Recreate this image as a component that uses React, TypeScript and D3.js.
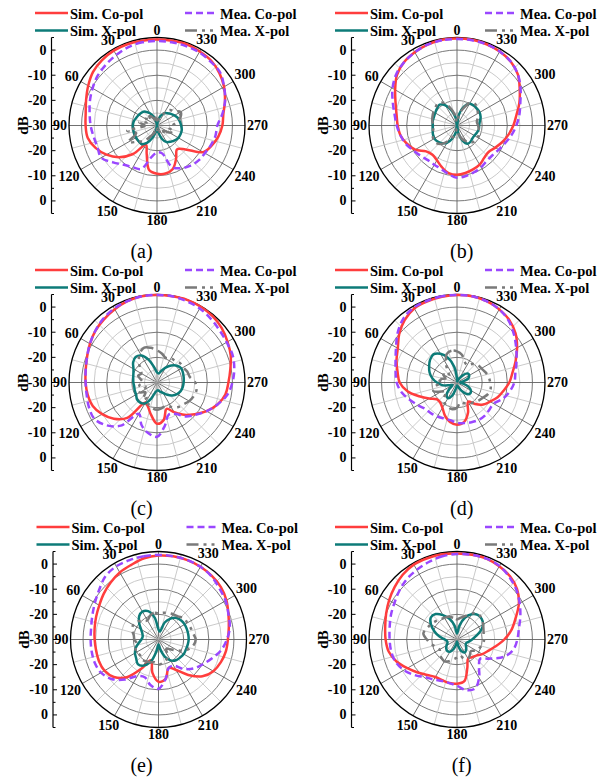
import React, { useEffect, useRef } from 'react';
import * as d3 from 'd3';

// angles in degrees, counter-clockwise from the top
const angles = [0, 10, 20, 30, 40, 50, 60, 70, 80, 90, 100, 110, 120, 130, 140, 150, 160, 170,
  180, 190, 200, 210, 220, 230, 240, 250, 260, 270, 280, 290, 300, 310, 320, 330, 340, 350];
const angleTicks = [0, 30, 60, 90, 120, 150, 180, 210, 240, 270, 300, 330];
const radialLabels = [0, -10, -20, -30];
const seriesNames = ['Sim. Co-pol', 'Mea. Co-pol', 'Sim. X-pol', 'Mea. X-pol'];
const captions = ['(a)', '(b)', '(c)', '(d)', '(e)', '(f)'];

// (a)
const aSimCo = [4.2, 4.2, 4.4, 4.4, 4, 3.2, 1.6, 0, -1.2, -1.6, -2, -4, -6.8, -10.4, -15.2, -21.2, -18, -12, -10.8, -10.6, -11.6, -14.8, -17.6, -15.2, -8.8, -6.8, -5.2, -4, -3.2, -1.2, 0.8, 2.4, 3.6, 4, 4.4, 4.2];
const aMeaCo = [3.6, 3.6, 3.2, 2.4, 1.6, 0.8, -0.4, -1.6, -2.8, -3.6, -4.4, -4.8, -4.4, -7.2, -9.6, -10.8, -11.6, -17.2, -19.2, -18.8, -12.4, -10.4, -9.2, -8.4, -8, -7.2, -6.4, -6, -3.6, -1.2, 0.8, 2.8, 3.2, 3.6, 3.6, 3.6];
const aSimX = [-32, -28.4, -26.4, -24.4, -22.8, -22, -21.6, -21.2, -20.6, -20.4, -20.4, -20.4, -20.4, -20.4, -20.4, -22, -24.8, -27.6, -32, -27.6, -24.4, -22.4, -21.6, -20.8, -20.2, -20, -20, -20.4, -20.8, -21.2, -22, -22.8, -23.6, -24.4, -26, -28];
const aMeaX = [-28, -26.8, -27.6, -26, -25.2, -26.8, -24.4, -26, -22.8, -25.2, -18, -21.2, -16.8, -20, -22, -25.2, -26.8, -28.4, -27.6, -28.8, -26.8, -28, -26, -26.8, -24.4, -22.8, -25.2, -24, -22, -20, -19.2, -21.2, -22, -24.4, -26, -27.6];

// (b)
const bSimCo = [4.6, 4.6, 4.2, 3.6, 2.8, 1.2, -1.6, -4, -5.6, -6.4, -7.2, -8.8, -10.8, -14, -14.8, -14, -12.4, -10.8, -10.4, -10.8, -11.4, -12, -13.2, -13.6, -12.4, -10.8, -9.2, -7.6, -6, -3.6, -1.2, 1.6, 3.2, 4, 4.4, 4.6];
const bMeaCo = [4.4, 4.4, 4.2, 3.6, 2.8, 1.6, -0.4, -2.8, -4.8, -6, -7.2, -8.4, -10, -11.2, -12, -12, -11.6, -10.4, -9.2, -9.6, -10.2, -10.8, -11.6, -11.6, -10.8, -9.6, -8, -6.4, -4.8, -3.2, -0.8, 1.6, 3.2, 4, 4.4, 4.4];
const bSimX = [-32, -26.8, -23.6, -20.8, -19.2, -19.6, -20, -20.2, -20.2, -20.4, -20.2, -19.8, -19.6, -20, -20.8, -22, -24.4, -27.2, -32, -26.8, -23.6, -21.6, -21.6, -22, -22, -21.6, -21.2, -21.2, -20.8, -20, -19.6, -19.6, -19.6, -20, -22, -25.6];
const bMeaX = [-28.8, -26, -22.8, -19.6, -18.4, -18.8, -19.2, -19.6, -20, -20.8, -20.4, -19.6, -19.2, -19.2, -20.4, -22.8, -25.2, -27.6, -28.8, -26.8, -24.4, -22.8, -21.2, -20.4, -20.4, -20.8, -21.2, -21.6, -22, -21.2, -20.4, -19.6, -18.8, -19.6, -22.8, -26];

// (c)
const cSimCo = [4.8, 4.8, 4.4, 3.6, 2.8, 2, 0.8, -0.4, -1.2, -1.6, -2, -2.8, -4.8, -7.6, -11.6, -20.8, -19.6, -16.8, -13.6, -14.8, -18.8, -16.4, -13.2, -10.4, -7.2, -4.4, -2.4, -1.6, -0.4, 1.2, 2.4, 3.6, 4.4, 4.8, 5, 4.8];
const cMeaCo = [4.8, 4.8, 4.4, 4, 3.2, 2, 0.8, -0.4, -1.2, -1.6, -1.6, -1.2, -1.2, -3.6, -7.6, -15.6, -12, -9.6, -8.4, -12.4, -16.4, -15.6, -12.4, -10, -7.2, -4.4, -1.6, 0, 1.2, 2, 2, 2.4, 3.2, 4, 4.4, 4.8];
const cSimX = [-26, -24, -20.4, -17.6, -16.8, -17.6, -19.2, -20, -20.4, -20.6, -20.8, -20.6, -20.4, -19.6, -19.6, -20.4, -23.2, -26, -26.8, -26.8, -26, -25.2, -23.6, -22, -20.8, -20, -19.6, -19.4, -19.2, -19, -18.8, -19.6, -21.2, -23.2, -25.2, -26.4];
const cMeaX = [-17.2, -16, -15.2, -16.4, -18.8, -21.2, -22.8, -22, -23.6, -24.4, -22.8, -25.2, -22, -24, -21.2, -22.8, -20.4, -19.6, -19.2, -19.6, -20, -18.8, -17.2, -16.4, -15.2, -14.4, -14, -14.8, -16.8, -17.2, -18, -18, -18.8, -18.8, -19.6, -18.4];

// (d)
const dSimCo = [4.8, 4.6, 4.4, 4, 2.4, 0, -2.8, -4.4, -6, -7.2, -10, -14, -17.2, -19.6, -19.6, -18.4, -16, -14, -13.2, -14, -17.2, -21.2, -18.8, -16.4, -14.8, -12.8, -11.2, -9.2, -7.6, -5.2, -2.4, 0.4, 2.4, 3.6, 4.4, 4.8];
const dMeaCo = [4.8, 4.8, 4.6, 4.4, 3.2, 0.8, -2, -4, -5.2, -6, -7.6, -10, -12, -13.6, -14, -14.4, -14.8, -14.8, -14, -13.6, -13.2, -12.8, -12.8, -13.2, -13.2, -10.8, -8.8, -7.2, -6.4, -4.8, -2.8, -0.4, 2, 3.6, 4.4, 4.8];
const dSimX = [-28.4, -23.6, -19.6, -16.8, -15.4, -16, -17.2, -18.4, -20, -22, -24, -26.8, -28, -26, -23.6, -22.8, -24.4, -27.6, -28.8, -28.4, -27.6, -26, -24, -23.2, -23.6, -25.2, -27.6, -28.8, -27.6, -25.2, -24.4, -24.4, -26, -28, -29.2, -29.6];
const dMeaX = [-17.6, -17.2, -18, -21.2, -24.4, -26, -23.6, -25.2, -22, -24, -21.2, -20, -22.8, -24.4, -22, -20.4, -19.6, -19.2, -20, -22, -21.2, -20.4, -19.6, -18.8, -18, -16.8, -16.4, -16.8, -17.2, -18, -18.8, -19.2, -20.4, -22, -21.2, -18.8];

// (e)
const eSimCo = [3.4, 2.8, 1.6, 0.8, -0.4, -1.6, -2.8, -3.6, -4.2, -4.6, -4.8, -4.8, -5.2, -6.8, -10.4, -16.8, -21.2, -16.4, -13.2, -14, -18, -16, -11.6, -7.2, -4.8, -3.6, -2.8, -2.4, -1.6, -0.4, 1.2, 2.4, 3, 3.4, 3.6, 3.6];
const eMeaCo = [3.6, 3.6, 3.6, 3.6, 2.8, 0.8, -0.8, -2, -2.8, -3, -3, -3, -3.6, -5.6, -9.2, -13.2, -14, -11.6, -10.4, -14, -18, -18, -14.8, -12, -10, -7.6, -4.8, -2.8, -1.2, -0.4, 0.8, 1.6, 2.8, 3.4, 3.6, 3.6];
const eSimX = [-26, -21.2, -18, -17.2, -18, -20, -22, -23.2, -23.6, -23.2, -22, -20.4, -19.2, -18.4, -17.2, -18, -20.4, -25.2, -28, -26, -22.8, -20.4, -19.2, -18.8, -18.4, -18.4, -18.2, -18, -18, -18, -18, -18.2, -18.8, -20.4, -22.8, -26.8];
const eMeaX = [-19.6, -19.2, -20, -21.2, -20.4, -18.8, -18.4, -18.8, -20, -20.4, -21.2, -20.4, -19.6, -20.4, -19.6, -20, -20.4, -20.8, -20, -20.4, -21.2, -22.8, -25.2, -24, -21.2, -18, -16, -15.2, -16, -16.4, -16.8, -16.8, -18, -18.4, -18.8, -19.2];

// (f)
const fSimCo = [4.2, 4.4, 4.4, 4.4, 3.6, 2.4, 1.2, 0, -1, -1.6, -2.4, -4.4, -7.2, -9.6, -11.6, -12.8, -12.8, -12.4, -12.4, -13.2, -18, -21.2, -20.8, -20, -18.4, -16.8, -14.4, -11.2, -8, -5.2, -1.6, 1.2, 2.8, 3.6, 4.2, 4.2];
const fMeaCo = [4, 3.6, 2.8, 2, 1.2, 0, -1.2, -2, -2.8, -3.2, -3.4, -4, -5.6, -8, -10.4, -11.6, -12.4, -12.4, -11.6, -9.6, -9.2, -12.4, -16.4, -18, -14.8, -10, -7.2, -6, -5, -3.2, -1.2, 0.8, 2.4, 3.8, 4.2, 4.2];
const fSimX = [-27.6, -24.4, -21.2, -18.8, -16.8, -16.4, -18, -20.4, -22.8, -25.2, -26, -26, -25.2, -24.4, -24, -24.4, -26, -28, -29.2, -27.6, -25.2, -24, -24.4, -25.2, -26, -26, -25.2, -24, -22.4, -20, -18, -17.2, -17.2, -18.4, -20.8, -24.4];
const fMeaX = [-22, -21.2, -20.4, -20, -19.6, -18.8, -18, -17.2, -16.4, -18, -19.6, -21.2, -22, -21.2, -20.4, -20, -20.8, -22, -22.8, -23.6, -22, -21.2, -22, -22.8, -21.2, -20.4, -19.6, -19.2, -19.2, -18.8, -18, -17.2, -16.8, -18, -20, -21.2];

const panels = [
  [aSimCo, aMeaCo, aSimX, aMeaX],
  [bSimCo, bMeaCo, bSimX, bMeaX],
  [cSimCo, cMeaCo, cSimX, cMeaX],
  [dSimCo, dMeaCo, dSimX, dMeaX],
  [eSimCo, eMeaCo, eSimX, eMeaX],
  [fSimCo, fMeaCo, fSimX, fMeaX],
];

const colors = ['#ff3d3d', '#9a47ff', '#0d7b78', '#7a7a7a'];
const dashes = [null, '7,4', null, '12,5,3,5,3,5'];

const width = 610;
const height = 778;
const R = 88;
const FONT = '"Liberation Serif", "Times New Roman", serif';

const App = () => {
  const svgRef = useRef(null);

  useEffect(() => {
    const svg = d3.select(svgRef.current);
    svg.selectAll('*').remove();

    const r = d3.scaleLinear().domain([-30, 5]).range([0, R]).clamp(true);
    const rad = (deg) => (deg * Math.PI) / 180;

    const line = d3.lineRadial()
      .angle((d, j) => -rad(angles[j]))
      .radius((d) => r(d))
      .curve(d3.curveCatmullRomClosed.alpha(0.5));

    // label distance from centre, so that each label clears the outer ring
    const labelOff = (d) => {
      const w = String(d).length * 7;
      return R + 2 + Math.abs(Math.sin(rad(d))) * w / 2 + Math.abs(Math.cos(rad(d))) * 5;
    };

    panels.forEach((series, i) => {
      const col = i % 2;
      const row = Math.floor(i / 2);
      const cx = 157 + col * 300 + (i === 4 ? 1.5 : 0);
      const cy = 125.5 + row * 257;
      const g = svg.append('g').attr('transform', `translate(${cx},${cy})`);

      // rings
      g.selectAll('circle.ring')
        .data([-25, -20, -15, -10, -5, 0])
        .join('circle')
        .attr('class', 'ring')
        .attr('r', (d) => r(d))
        .attr('fill', 'none')
        .attr('stroke', (d) => (d % 10 === 0 ? '#6a6a6a' : '#c4c4c4'))
        .attr('stroke-width', 0.9);

      // spokes
      g.selectAll('line.spoke')
        .data(d3.range(0, 360, 15))
        .join('line')
        .attr('class', 'spoke')
        .attr('x1', 0)
        .attr('y1', 0)
        .attr('x2', (d) => -R * Math.sin(rad(d)))
        .attr('y2', (d) => -R * Math.cos(rad(d)))
        .attr('stroke', (d) => (d % 30 === 0 ? '#606060' : '#c4c4c4'))
        .attr('stroke-width', 0.9);

      g.append('circle')
        .attr('r', R)
        .attr('fill', 'none')
        .attr('stroke', '#000')
        .attr('stroke-width', 1.3);

      // curves
      series.forEach((vals, k) => {
        g.append('path')
          .datum(vals)
          .attr('d', line)
          .attr('fill', 'none')
          .attr('stroke', colors[k])
          .attr('stroke-width', 2.5)
          .attr('stroke-linejoin', 'round')
          .attr('stroke-dasharray', dashes[k]);
      });

      // angle labels
      g.selectAll('text.ang')
        .data(angleTicks)
        .join('text')
        .attr('class', 'ang')
        .attr('x', (d) => -labelOff(d) * Math.sin(rad(d)))
        .attr('y', (d) => -labelOff(d) * Math.cos(rad(d)))
        .attr('text-anchor', 'middle')
        .attr('dominant-baseline', 'central')
        .attr('font-family', FONT)
        .attr('font-weight', 'bold')
        .attr('font-size', 14)
        .text((d) => d);

      // radial axis on the left
      const ax = g.append('g').attr('transform', `translate(${-105.5},0)`);
      ax.append('line')
        .attr('y1', -R)
        .attr('y2', R)
        .attr('stroke', '#000')
        .attr('stroke-width', 1.2);
      const tickVals = [5, 0, -5, -10, -15, -20, -25, -30];
      [-1, 1].forEach((s) => {
        ax.selectAll(null)
          .data(tickVals)
          .join('line')
          .attr('x1', 0)
          .attr('x2', (d) => (d % 10 === 0 ? 4 : 2.5))
          .attr('y1', (d) => s * r(d))
          .attr('y2', (d) => s * r(d))
          .attr('stroke', '#000')
          .attr('stroke-width', 1);
        ax.selectAll(null)
          .data(s === -1 ? radialLabels : radialLabels.filter((d) => d !== -30))
          .join('text')
          .attr('x', -5)
          .attr('y', (d) => s * r(d))
          .attr('text-anchor', 'end')
          .attr('dominant-baseline', 'central')
          .attr('font-family', FONT)
          .attr('font-weight', 'bold')
          .attr('font-size', 14)
          .text((d) => d);
      });
      ax.append('text')
        .attr('transform', 'translate(-29,0) rotate(-90)')
        .attr('text-anchor', 'middle')
        .attr('dominant-baseline', 'central')
        .attr('font-family', FONT)
        .attr('font-weight', 'bold')
        .attr('font-size', 15)
        .text('dB');

      // legend
      const leg = g.append('g');
      seriesNames.forEach((name, k) => {
        const lx = k % 2 === 0 ? -122 : 28;
        const ly = k < 2 ? -112.5 : -95;
        leg.append('line')
          .attr('x1', lx)
          .attr('x2', lx + 33)
          .attr('y1', ly)
          .attr('y2', ly)
          .attr('stroke', colors[k])
          .attr('stroke-width', 2.6)
          .attr('stroke-dasharray', dashes[k]);
        leg.append('text')
          .attr('x', lx + 35)
          .attr('y', ly + 0.5)
          .attr('dominant-baseline', 'central')
          .attr('font-family', FONT)
          .attr('font-weight', 'bold')
          .attr('font-size', 14.5)
          .text(name);
      });

      // caption
      svg.append('text')
        .attr('x', col === 0 ? 141.5 : 461.7)
        .attr('y', cy + 125)
        .attr('text-anchor', 'middle')
        .attr('dominant-baseline', 'central')
        .attr('font-family', FONT)
        .attr('font-size', 20)
        .text(captions[i]);
    });
  }, []);

  return (
    <div style={{ position: 'absolute', left: 0, top: 0 }}>
      <svg ref={svgRef} width={width} height={height} style={{ display: 'block', background: '#fff' }}></svg>
    </div>
  );
};

export default App;
